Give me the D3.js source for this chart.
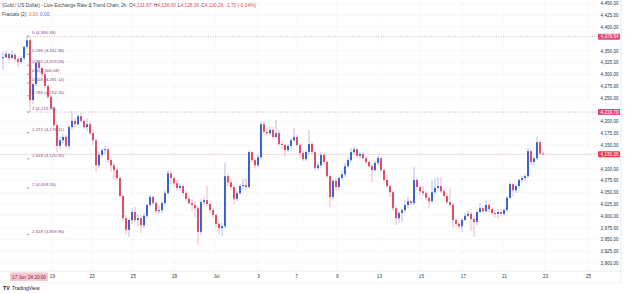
<!DOCTYPE html>
<html>
<head>
<meta charset="utf-8">
<script src="https://cdn.jsdelivr.net/npm/d3@7"></script>
<style>
body{margin:0;background:#fff;}
svg{display:block;font-family:"Liberation Sans",Arial,sans-serif;}
</style>
</head>
<body>
<div id="chart"></div>
<script>
// 2h candles, open = previous close
const firstOpen = 4334;
const closes = [4336,4343,4334,4341,4332,4326,4334,4358,4372,4245,
 4279,4324,4313,4300,4275,4252,4228,4192,4148,4160,
 4167,4148,4188,4201,4194,4211,4201,4188,4194,4175,
 4160,4107,4129,4139,4141,4118,4107,4097,4080,4042,
 3995,3970,3991,4008,3991,3995,3980,4000,4023,4040,
 4027,4010,4012,4027,4048,4090,4080,4069,4059,4063,
 4048,4036,4027,4023,4016,3966,4029,4033,4025,4012,
 4002,3983,3974,3978,4084,4071,4061,4036,4048,4063,
 4065,4061,4135,4118,4107,4124,4194,4178,4175,4182,
 4167,4175,4152,4150,4139,4148,4160,4167,4150,4133,
 4120,4135,4152,4135,4101,4107,4129,4114,4084,4040,
 4074,4061,4080,4088,4105,4118,4135,4141,4127,4131,
 4122,4114,4105,4097,4112,4122,4097,4076,4063,4050,
 4016,3995,4006,4012,4023,4031,4027,4076,4061,4052,
 4048,4038,4031,4050,4059,4063,4052,4042,4029,4023,
 3991,3983,3978,3991,4000,4004,3993,3987,4008,4016,
 4010,4023,4014,4006,4004,4008,4004,4012,4038,4067,
 4054,4063,4076,4080,4084,4137,4114,4122,4156,4131.87,
 4130.26];
const highs = [4347,4349,4345,4351,4345,4336,4339,4360,4380.38,4376,
 4283,4330,4328,4317,4305,4279,4256,4233,4199,4167,
 4173,4171,4192,4222,4209,4216,4218,4205,4207,4199,
 4182,4165,4135,4143,4148,4143,4124,4112,4101,4084,
 4046,4002,3995,4016,4019,4004,4002,4006,4027,4044,
 4042,4031,4021,4031,4054,4097,4095,4084,4076,4069,
 4067,4054,4042,4036,4031,4021,4036,4040,4063,4031,
 4016,4006,3987,3985,4112,4088,4078,4065,4052,4067,
 4078,4080,4139,4137,4122,4129,4199,4199,4186,4188,
 4188,4203,4182,4160,4154,4152,4165,4186,4171,4154,
 4139,4139,4182,4156,4139,4114,4135,4133,4118,4088,
 4078,4080,4084,4095,4112,4124,4143,4146,4143,4135,
 4135,4127,4118,4110,4116,4127,4124,4101,4086,4067,
 4054,4021,4010,4016,4033,4040,4033,4103,4080,4065,
 4065,4052,4042,4076,4080,4082,4082,4057,4048,4059,
 4027,3995,3987,3995,4006,4012,4008,3997,4012,4027,
 4021,4033,4027,4019,4012,4012,4014,4016,4042,4071,
 4069,4067,4080,4084,4088,4143,4139,4127,4167,4160,
 4138];
const lows = [4309,4334,4330,4334,4326,4315,4322,4330,4353,4219.79,
 4237,4275,4305,4294,4271,4247,4224,4188,4135,4141,
 4154,4143,4141,4182,4188,4190,4197,4184,4180,4171,
 4150,4093,4101,4122,4131,4112,4093,4076,4074,4038,
 3987,3961,3955,3983,3985,3978,3963,3974,3995,4019,
 4023,4004,4004,4006,4023,4044,4067,4063,4052,4052,
 4042,4031,4023,4010,3997,3938,3959,4023,4021,4006,
 3995,3976,3961,3957,3974,4063,4054,4025,4031,4044,
 4057,4054,4057,4114,4101,4103,4120,4173,4169,4171,
 4163,4165,4148,4141,4124,4135,4143,4158,4146,4124,
 4116,4116,4131,4131,4097,4097,4101,4107,4080,4019,
 4036,4054,4054,4076,4082,4101,4114,4129,4122,4120,
 4118,4110,4101,4071,4093,4107,4093,4069,4059,4040,
 4010,3980,3985,3987,4006,4016,4021,4023,4054,4046,
 4042,4033,4016,4027,4046,4054,4048,4036,4025,4019,
 3974,3976,3972,3966,3989,3997,3968,3955,3980,4006,
 4004,4008,4008,4002,3997,3995,4000,4000,4010,4036,
 4042,4048,4059,4071,4074,4080,4107,4107,4118,4129,
 4128.36];

// price scale labels (4,375 / 4,225 / 4,125 sit under the badges)
const priceTicks = [3900,3925,3950,3975,4000,4025,4050,4075,4100,4150,4175,4200,4250,4275,4300,4325,4350,4400,4425,4450];
const timeTickBars = [16.3,29.5,43.3,57,71,85,97.7,111.3,125.3,139.3,153.3,167,180.7,195];
const timeLabels = ["19","23","25","29","Jul","3","7","9","13","15","17","21","23","25"];

const fibRatios = ["0","0.236","0.382","0.5","0.618","0.786","1","1.272","1.618","2","2.618"];
const fibPrices = [4380.38,4342.48,4319.03,4300.08,4281.14,4254.16,4219.79,4176.11,4120.55,4059.20,3959.96];
const rayPrices = [4379.54,4219.79];
const lastPrice = 4130.26;

const W = 625, H = 294;
const plotRight = 598;
const axisTop = 271;

const svg = d3.select("#chart").append("svg").attr("width", W).attr("height", H);

const x = d3.scaleLinear().domain([0,195]).range([3,588]);
const y = d3.scaleLinear().domain([3900,4450]).range([263,3.4]);
const fmt = d3.format(",.2f");

// faint grid
svg.append("g").selectAll("line").data(priceTicks).join("line")
  .attr("x1",0).attr("x2",plotRight).attr("y1",d=>y(d)).attr("y2",d=>y(d))
  .attr("stroke","#f4f4f6").attr("stroke-width",0.6);
svg.append("g").selectAll("line").data(timeTickBars).join("line")
  .attr("x1",d=>x(d)).attr("x2",d=>x(d)).attr("y1",0).attr("y2",axisTop)
  .attr("stroke","#f4f4f6").attr("stroke-width",0.6);

// current price line
svg.append("line").attr("x1",0).attr("x2",plotRight)
  .attr("y1",y(lastPrice)).attr("y2",y(lastPrice))
  .attr("stroke","#e9d3d6").attr("stroke-width",0.8);

// dotted rays
svg.append("g").selectAll("line").data(rayPrices).join("line")
  .attr("x1",28).attr("x2",plotRight).attr("y1",d=>y(d)).attr("y2",d=>y(d))
  .attr("stroke","#a87893").attr("stroke-width",0.7).attr("stroke-dasharray","0.8,1.6");

// candles
const bars = closes.map((c,i)=>({i:i, o: i==0 ? firstOpen : closes[i-1], h:highs[i], l:lows[i], c:c}));
const upCol = "#3c62d4", downCol = "#e04d68";
const cg = svg.append("g");
cg.selectAll("line").data(bars).join("line")
  .attr("x1",d=>x(d.i)).attr("x2",d=>x(d.i))
  .attr("y1",d=>y(d.h)).attr("y2",d=>y(d.l))
  .attr("stroke",d=> d.c>=d.o ? upCol : downCol).attr("stroke-opacity",0.5).attr("stroke-width",0.8);
cg.selectAll("rect").data(bars).join("rect")
  .attr("x",d=>x(d.i)-1).attr("width",2)
  .attr("y",d=>y(Math.max(d.o,d.c)))
  .attr("height",d=>Math.max(0.8, Math.abs(y(d.o)-y(d.c))))
  .attr("fill",d=> d.c>=d.o ? upCol : downCol);

// fib levels
const fibs = fibRatios.map((r,i)=>({r:r,p:fibPrices[i]}));
svg.append("g").selectAll("line").data(fibs).join("line")
  .attr("x1",27).attr("x2",29.5).attr("y1",d=>y(d.p)).attr("y2",d=>y(d.p))
  .attr("stroke","#777").attr("stroke-width",0.7);
svg.append("g").selectAll("text").data(fibs).join("text")
  .attr("x",32).attr("y",d=>y(d.p)-1.8)
  .attr("font-size","4.4px").attr("fill","#7d4c8c")
  .text(d=>d.r+" ("+fmt(d.p)+")");

// price scale
const yAxis = d3.axisRight(y).tickValues(priceTicks).tickSize(0).tickPadding(0).tickFormat(fmt);
const ya = svg.append("g").attr("transform","translate(618.5,0)").call(yAxis);
ya.select(".domain").remove();
ya.selectAll("text").attr("text-anchor","end").attr("font-size","4.6px").attr("fill","#333").attr("font-family","Liberation Sans, Arial, sans-serif");

// price scale badges
const badges = [{t:"4,379.54",p:rayPrices[0],c:"#e2477d"},{t:"4,219.79",p:rayPrices[1],c:"#e2477d"},{t:fmt(lastPrice),p:lastPrice,c:"#ef3b4e"}];
const bg = svg.append("g").selectAll("g").data(badges).join("g");
bg.append("rect").attr("x",598).attr("width",22).attr("y",d=>y(d.p)-3).attr("height",6).attr("fill",d=>d.c).attr("rx",0.6);
bg.append("text").attr("x",618.5).attr("y",d=>y(d.p)).attr("dy","0.35em")
  .attr("text-anchor","end").attr("font-size","4.6px").attr("fill","#fff").text(d=>d.t);

// time axis
svg.append("line").attr("x1",0).attr("x2",621).attr("y1",axisTop).attr("y2",axisTop).attr("stroke","#e3e5ea").attr("stroke-width",0.7);
svg.append("line").attr("x1",0).attr("x2",621).attr("y1",283).attr("y2",283).attr("stroke","#eceef2").attr("stroke-width",0.6);
svg.append("line").attr("x1",621).attr("x2",621).attr("y1",0).attr("y2",283).attr("stroke","#e3e5ea").attr("stroke-width",0.7);

const xAxis = d3.axisBottom(x).tickValues(timeTickBars).tickSize(0).tickPadding(0).tickFormat((d,i)=>timeLabels[i]);
const xa = svg.append("g").attr("transform","translate(0,274.5)").call(xAxis);
xa.select(".domain").remove();
xa.selectAll("text").attr("font-size","4.6px").attr("fill","#333").attr("font-family","Liberation Sans, Arial, sans-serif");

// hovered bar label
svg.append("rect").attr("x",10).attr("y",272.5).attr("width",38).attr("height",8.5).attr("fill","#f8c6d1");
svg.append("text").attr("x",29).attr("y",278.5).attr("text-anchor","middle")
  .attr("font-size","4.6px").attr("fill","#6a2434").text("17 Jun '24   20:00");

// header
const title = svg.append("text").attr("x",2).attr("y",6.5).attr("font-size","4.8px").attr("fill","#444");
title.append("tspan").text("(Gold / US Dollar) - Live Exchange Rate & Trend Chart, 2h");
const ohlc = [["O","4,131.87"],["H","4,138.00"],["L","4,128.36"],["C","4,130.26"]];
ohlc.forEach((d,i)=>{
  title.append("tspan").attr("dx", i==0 ? 3 : 2).attr("fill","#444").text(d[0]);
  title.append("tspan").attr("fill","#e8455c").text(d[1]);
});
title.append("tspan").attr("dx",2).attr("fill","#e8455c").text("-1.70 (-0.04%)");

const frac = svg.append("text").attr("x",2).attr("y",15.5).attr("font-size","4.8px").attr("fill","#444");
frac.append("tspan").text("Fractals (2)");
frac.append("tspan").attr("dx",2.5).attr("fill","#f0684a").text("0.00");
frac.append("tspan").attr("dx",2).attr("fill","#4a72d8").text("0.00");

// logo
svg.append("text").attr("x",3).attr("y",290).attr("font-size","5.2px").attr("font-weight","bold").attr("fill","#131722").text("TV");
svg.append("text").attr("x",12).attr("y",290).attr("font-size","5px").attr("fill","#131722").text("TradingView");
</script>
</body>
</html>
